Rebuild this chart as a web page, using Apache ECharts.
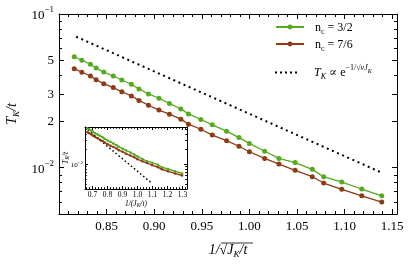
<!DOCTYPE html>
<html><head><meta charset="utf-8">
<script src="https://cdn.jsdelivr.net/npm/echarts@6/dist/echarts.min.js"></script>
<style>html,body{margin:0;padding:0;background:#fff}#c{width:415px;height:265px}</style>
</head><body><div id="c"></div>
<script>
// ---- data ----
const xs = [0.816, 0.824, 0.833, 0.839, 0.847, 0.857, 0.866, 0.876, 0.884, 0.894, 0.905, 0.916, 0.928, 0.936, 0.949, 0.961, 0.976, 0.989, 1.000, 1.016, 1.031, 1.048, 1.066, 1.078, 1.097, 1.118, 1.139];
const green = [0.0527, 0.0500, 0.0471, 0.0445, 0.0419, 0.0395, 0.0372, 0.0349, 0.0325, 0.0302, 0.0283, 0.0262, 0.0241, 0.0224, 0.0206, 0.0190, 0.0173, 0.0157, 0.0144, 0.0128, 0.0115, 0.0108, 0.00976, 0.00874, 0.00807, 0.00727, 0.00657];
const brown = [0.0441, 0.0418, 0.0395, 0.0374, 0.0352, 0.0332, 0.0312, 0.0293, 0.0274, 0.0255, 0.0237, 0.0223, 0.0207, 0.0192, 0.0178, 0.0163, 0.0150, 0.0138, 0.0127, 0.0115, 0.01057, 0.00962, 0.00874, 0.00795, 0.00724, 0.00657, 0.00598];
const fitX = [0.818, 1.139];
const fitY = [0.0712, 0.00928];
const insetFitX = [0.669, 1.097];
const insetFitY = [0.0487, 0.00414];
// ---- ticks ----
const xLabels = [0.85, 0.90, 0.95, 1.00, 1.05, 1.10, 1.15];
const xMajor = [0.80, 0.85, 0.90, 0.95, 1.00, 1.05, 1.10, 1.15];
const xMinor = [];
for (let k = 81; k <= 115; k++) if (k % 5) xMinor.push(k / 100);
const yMajor = [0.01, 0.02, 0.03, 0.05, 0.1];
const yMinor = [0.006, 0.007, 0.008, 0.009, 0.04, 0.06, 0.07, 0.08, 0.09];
const ixLabels = [0.7, 0.8, 0.9, 1.0, 1.1, 1.2, 1.3];
const ixMinor = [];
for (let k = 66; k <= 132; k += 2) if (k % 10) ixMinor.push(k / 100);
const iyMajor = [0.01];
const iyMinor = [0.004, 0.005, 0.006, 0.007, 0.008, 0.009, 0.02, 0.03, 0.04, 0.05];

const SERIF = '"Liberation Serif","DejaVu Serif",serif';
const GREEN = '#55aa1e', BROWN = '#8e3a15';
const BLACK = '#000';

const mainRect = {left: 59, top: 14, right: 18, bottom: 51};
const insetRect = {left: 85, top: 127, width: 102, height: 62};

function axLine(show) { return {show: show, onZero: false, lineStyle: {color: BLACK, width: 1}}; }
function ticks(vals, len, w) { return {show: true, inside: true, length: len, customValues: vals, lineStyle: {color: BLACK, width: w || 1}}; }
const noLabel = {show: false};
const noSplit = {show: false};

function yLabelFmt(v) {
  if (Math.abs(v - 0.1) < 1e-9) return '{b|10}{sup|−1}';
  if (Math.abs(v - 0.01) < 1e-9) return '{b|10}{sup|−2}';
  return String(Math.round(v * 100));
}

const nameRich = {
  it: {fontFamily: SERIF, fontStyle: 'italic', fontSize: 14, color: BLACK, verticalAlign: 'top'},
  n: {fontFamily: SERIF, fontSize: 14, color: BLACK, verticalAlign: 'top'},
  sub: {fontFamily: SERIF, fontStyle: 'italic', fontSize: 9, color: BLACK, padding: [7, 0, 0, 0], verticalAlign: 'top'}
};
const smallRich = {
  it: {fontFamily: SERIF, fontStyle: 'italic', fontSize: 7.5, color: BLACK, verticalAlign: 'top'},
  sub: {fontFamily: SERIF, fontStyle: 'italic', fontSize: 5.5, color: BLACK, padding: [3, 0, 0, 0], verticalAlign: 'top'}
};
const legRich = {
  s: {width: 6},
  n: {fontFamily: SERIF, fontSize: 12, color: BLACK, padding: [3, 0, 0, 0], verticalAlign: 'top'},
  it: {fontFamily: SERIF, fontStyle: 'italic', fontSize: 12, color: BLACK, padding: [3, 0, 0, 0], verticalAlign: 'top'},
  sub: {fontFamily: SERIF, fontSize: 8, color: BLACK, padding: [9, 0, 0, 0], verticalAlign: 'top'},
  subi: {fontFamily: SERIF, fontStyle: 'italic', fontSize: 8, color: BLACK, padding: [9, 0, 0, 0], verticalAlign: 'top'},
  sup: {fontFamily: SERIF, fontSize: 8, color: BLACK, verticalAlign: 'top'},
  supi: {fontFamily: SERIF, fontStyle: 'italic', fontSize: 8, color: BLACK, verticalAlign: 'top'},
  supsub: {fontFamily: SERIF, fontStyle: 'italic', fontSize: 6, color: BLACK, padding: [4, 0, 0, 0], verticalAlign: 'top'}
};

const chart = echarts.init(document.getElementById('c'), null, {renderer: 'canvas'});
const option = {
  animation: false,
  backgroundColor: '#fff',
  grid: [
    Object.assign({show: false, containLabel: false, outerBoundsMode: 'none'}, mainRect),
    Object.assign({show: false, containLabel: false, outerBoundsMode: 'none'}, insetRect),
    Object.assign({show: false, containLabel: false, outerBoundsMode: 'none'}, mainRect),
    Object.assign({show: false, containLabel: false, outerBoundsMode: 'none'}, insetRect)
  ],
  xAxis: [
    {type: 'value', gridIndex: 0, position: 'bottom', min: 0.80, max: 1.155, axisLine: axLine(true),
     axisTick: ticks(xMajor, 5), splitLine: noSplit,
     axisLabel: {customValues: xLabels, formatter: v => v.toFixed(2), fontFamily: SERIF, fontSize: 13, color: BLACK, margin: 6},
     name: '{it|1/}{n|√}{it|J}{sub|K}{it|/t}', nameLocation: 'middle', nameGap: 29, nameMoveOverlap: false,
     nameTextStyle: {rich: nameRich}},
    {type: 'value', gridIndex: 0, position: 'top', min: 0.80, max: 1.155, axisLine: axLine(true),
     axisTick: ticks(xMajor, 5), axisLabel: noLabel, splitLine: noSplit},
    {type: 'value', gridIndex: 2, position: 'bottom', min: 0.80, max: 1.155, axisLine: axLine(false),
     axisTick: ticks(xMinor, 3), axisLabel: noLabel, splitLine: noSplit},
    {type: 'value', gridIndex: 2, position: 'top', min: 0.80, max: 1.155, axisLine: axLine(false),
     axisTick: ticks(xMinor, 3), axisLabel: noLabel, splitLine: noSplit},
    {type: 'value', gridIndex: 1, position: 'bottom', min: 0.65, max: 1.33, axisLine: axLine(true),
     axisTick: ticks(ixLabels, 3), splitLine: noSplit,
     axisLabel: {customValues: ixLabels, formatter: v => v.toFixed(1), fontFamily: SERIF, fontSize: 7.5, color: BLACK, margin: 2},
     name: '{it|1/(J}{sub|K}{it|/t)}', nameLocation: 'middle', nameGap: 11, nameMoveOverlap: false,
     nameTextStyle: {rich: smallRich}},
    {type: 'value', gridIndex: 1, position: 'top', min: 0.65, max: 1.33, axisLine: axLine(true),
     axisTick: ticks(ixLabels, 3), axisLabel: noLabel, splitLine: noSplit},
    {type: 'value', gridIndex: 3, position: 'bottom', min: 0.65, max: 1.33, axisLine: axLine(false),
     axisTick: ticks(ixMinor, 1.8), axisLabel: noLabel, splitLine: noSplit},
    {type: 'value', gridIndex: 3, position: 'top', min: 0.65, max: 1.33, axisLine: axLine(false),
     axisTick: ticks(ixMinor, 1.8), axisLabel: noLabel, splitLine: noSplit}
  ],
  yAxis: [
    {type: 'log', logBase: 10, gridIndex: 0, position: 'left', min: 0.005, max: 0.1, axisLine: axLine(true),
     axisTick: ticks(yMajor, 5), splitLine: noSplit,
     axisLabel: {customValues: yMajor, formatter: yLabelFmt, fontFamily: SERIF, fontSize: 13, color: BLACK, margin: 5,
       rich: {b: {fontFamily: SERIF, fontSize: 13, color: BLACK, padding: [4, 0, 0, 0]},
              sup: {fontFamily: SERIF, fontSize: 9, color: BLACK, verticalAlign: 'top'}}},
     name: '{it|T}{sub|K}{it|/t}', nameLocation: 'middle', nameRotate: 90, nameGap: 38, nameMoveOverlap: false,
     nameTextStyle: {rich: nameRich}},
    {type: 'log', logBase: 10, gridIndex: 0, position: 'right', min: 0.005, max: 0.1, axisLine: axLine(true),
     axisTick: ticks(yMajor, 5), axisLabel: noLabel, splitLine: noSplit},
    {type: 'log', logBase: 10, gridIndex: 2, position: 'left', min: 0.005, max: 0.1, axisLine: axLine(false),
     axisTick: ticks(yMinor, 3), axisLabel: noLabel, splitLine: noSplit},
    {type: 'log', logBase: 10, gridIndex: 2, position: 'right', min: 0.005, max: 0.1, axisLine: axLine(false),
     axisTick: ticks(yMinor, 3), axisLabel: noLabel, splitLine: noSplit},
    {type: 'log', logBase: 10, gridIndex: 1, position: 'left', min: 0.0032, max: 0.056, axisLine: axLine(true),
     axisTick: ticks(iyMajor, 3), splitLine: noSplit,
     axisLabel: {customValues: iyMajor, formatter: () => '{b|10}{sup|−2}', margin: 2,
       rich: {b: {fontFamily: SERIF, fontSize: 7, color: BLACK, padding: [2, 0, 0, 0]},
              sup: {fontFamily: SERIF, fontSize: 5, color: BLACK, verticalAlign: 'top'}}},
     name: '{it|T}{sub|K}{it|/t}', nameLocation: 'middle', nameRotate: 90, nameGap: 14, nameMoveOverlap: false,
     nameTextStyle: {rich: smallRich}},
    {type: 'log', logBase: 10, gridIndex: 1, position: 'right', min: 0.0032, max: 0.056, axisLine: axLine(true),
     axisTick: ticks(iyMajor, 3), axisLabel: noLabel, splitLine: noSplit},
    {type: 'log', logBase: 10, gridIndex: 3, position: 'left', min: 0.0032, max: 0.056, axisLine: axLine(false),
     axisTick: ticks(iyMinor, 1.8), axisLabel: noLabel, splitLine: noSplit},
    {type: 'log', logBase: 10, gridIndex: 3, position: 'right', min: 0.0032, max: 0.056, axisLine: axLine(false),
     axisTick: ticks(iyMinor, 1.8), axisLabel: noLabel, splitLine: noSplit}
  ],
  legend: [
    {data: ['nc32'], orient: 'vertical', left: 275, top: 21, padding: 0, itemWidth: 28, itemHeight: 6, selectedMode: false,
     formatter: () => '{s|}{n|n}{sub|c}{n| = 3/2}', textStyle: {rich: legRich}},
    {data: ['nc76'], orient: 'vertical', left: 275, top: 38, padding: 0, itemWidth: 28, itemHeight: 6, selectedMode: false,
     formatter: () => '{s|}{n|n}{sub|c}{n| = 7/6}', textStyle: {rich: legRich}},
    {data: [{name: 'fit', icon: 'path://M0 0h2v2H0z M5 0h2v2H5z M10 0h2v2h-2z M15 0h2v2h-2z M20 0h2v2h-2z'}],
     orient: 'vertical', left: 275, top: 64, padding: 0, itemWidth: 22, itemHeight: 2, selectedMode: false,
     formatter: () => '{s|}{s2|}{it|T}{subi|K}{n| ∝ e}{sup|−1/√}{supi|vJ}{supsub|K}',
     textStyle: {rich: Object.assign({s2: {width: 6}}, legRich)}}
  ],
  graphic: [
    {type: 'line', shape: {x1: 221, y1: 243, x2: 253, y2: 243}, style: {stroke: BLACK, lineWidth: 0.8}, z: 10}
  ],
  series: [
    {type: 'line', name: 'nc32', xAxisIndex: 0, yAxisIndex: 0, data: xs.map((x, i) => [x, green[i]]),
     symbol: 'circle', symbolSize: 5, color: GREEN, lineStyle: {color: GREEN, width: 1.3}, itemStyle: {color: GREEN}, z: 3},
    {type: 'line', name: 'nc76', xAxisIndex: 0, yAxisIndex: 0, data: xs.map((x, i) => [x, brown[i]]),
     symbol: 'circle', symbolSize: 5, color: BROWN, lineStyle: {color: BROWN, width: 1.3}, itemStyle: {color: BROWN}, z: 3},
    {type: 'line', name: 'fit', xAxisIndex: 0, yAxisIndex: 0, data: fitX.map((x, i) => [x, fitY[i]]),
     symbol: 'none', color: BLACK, lineStyle: {color: BLACK, width: 2, type: [2, 3.6], cap: 'butt'}, z: 3},
    {type: 'line', name: 'in32', xAxisIndex: 4, yAxisIndex: 4, data: xs.map((x, i) => [x * x, green[i]]),
     symbol: 'circle', symbolSize: 2.5, color: GREEN, lineStyle: {color: GREEN, width: 1.4}, z: 7},
    {type: 'line', name: 'in76', xAxisIndex: 4, yAxisIndex: 4, data: xs.map((x, i) => [x * x, brown[i]]),
     symbol: 'circle', symbolSize: 2.5, color: BROWN, lineStyle: {color: BROWN, width: 1.4}, z: 7},
    {type: 'line', name: 'infit', xAxisIndex: 4, yAxisIndex: 4, data: insetFitX.map((x, i) => [x, insetFitY[i]]),
     symbol: 'none', color: BLACK, lineStyle: {color: BLACK, width: 1.5, type: [1.5, 2.5], cap: 'butt'}, z: 7}
  ]
};
chart.setOption(option);
</script></body></html>
